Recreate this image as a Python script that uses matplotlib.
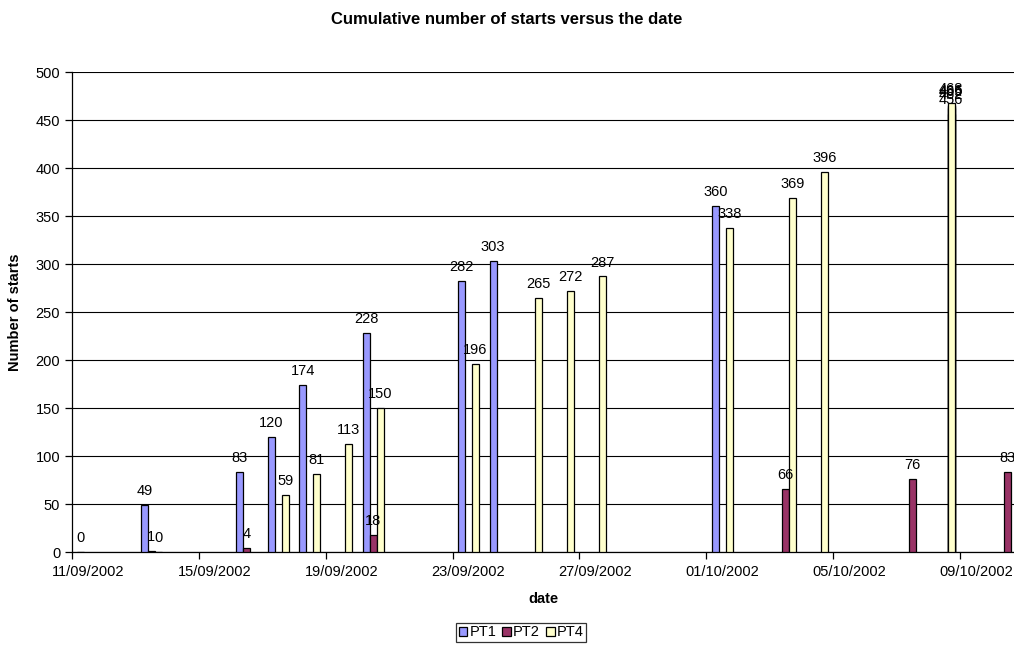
import datetime as dt
import numpy as np
import matplotlib
matplotlib.use('Agg')
import matplotlib.pyplot as plt
import matplotlib.dates as mdates

plt.rcParams['font.family'] = ['Liberation Sans', 'DejaVu Sans']

# cumulative number of starts per site (date -> value)
pt1_dates = ['11/09/2002', '13/09/2002', '16/09/2002', '17/09/2002', '18/09/2002',
             '20/09/2002', '23/09/2002', '24/09/2002', '01/10/2002']
pt1_vals = [0, 49, 83, 120, 174, 228, 282, 303, 360]

pt2_dates = ['13/09/2002', '16/09/2002', '20/09/2002', '03/10/2002', '07/10/2002', '10/10/2002']
pt2_vals = [1, 4, 18, 66, 76, 83]

pt4_dates = ['13/09/2002', '17/09/2002', '18/09/2002', '19/09/2002', '20/09/2002',
             '23/09/2002', '25/09/2002', '26/09/2002', '27/09/2002', '01/10/2002',
             '03/10/2002', '04/10/2002', '08/10/2002', '08/10/2002', '08/10/2002',
             '08/10/2002', '08/10/2002']
pt4_vals = [0, 59, 81, 113, 150, 196, 265, 272, 287, 338, 369, 396,
            456, 462, 465, 466, 468]

tick_dates = ['11/09/2002', '15/09/2002', '19/09/2002', '23/09/2002',
              '27/09/2002', '01/10/2002', '05/10/2002', '09/10/2002']

series = [('PT1', pt1_dates, pt1_vals, '#9999FF'),
          ('PT2', pt2_dates, pt2_vals, '#993366'),
          ('PT4', pt4_dates, pt4_vals, '#FFFFCC')]

def to_num(s):
    return mdates.date2num(dt.datetime.strptime(s, '%d/%m/%Y'))

start = to_num('11/09/2002')
w = 0.22

fig = plt.figure(figsize=(10.14, 6.46), dpi=100)
ax = fig.add_axes([72 / 1014, 1 - 552 / 646, 1 - 72 / 1014, 480 / 646])

for i, (name, dates, vals, col) in enumerate(series):
    x = np.array([to_num(d) for d in dates]) + 0.5 + (i - 1) * w
    ax.bar(x, vals, width=w, color=col, edgecolor='black', linewidth=0.9,
           label=name, zorder=3)
    for xx, v in zip(x, vals):
        ax.annotate(str(v), (xx, v), xytext=(0, 5), textcoords='offset points',
                    ha='center', va='bottom', fontsize=10.5, zorder=4)

ax.set_xlim(start, start + 29.7)
ax.set_ylim(0, 500)
ax.set_yticks(np.arange(0, 501, 50))
# tick marks at the start of the day, labels in the middle of the day slot
tk = [to_num(d) for d in tick_dates]
ax.set_xticks(tk)
ax.set_xticklabels([])
ax.set_xticks([t + 0.5 for t in tk], minor=True)
ax.set_xticklabels(tick_dates, minor=True)
ax.tick_params(axis='x', which='minor', length=0, pad=9, labelsize=10.5)
ax.tick_params(axis='x', which='major', direction='out', length=5, width=0.9)
ax.tick_params(axis='y', labelsize=10.5, direction='out', length=5, width=0.9)
ax.grid(axis='y', color='black', linewidth=0.8, zorder=0)
ax.spines['top'].set_visible(False)
ax.spines['right'].set_visible(False)
ax.spines['left'].set_linewidth(0.9)
ax.spines['bottom'].set_linewidth(0.9)

ax.set_xlabel('date', fontsize=10.5, fontweight='bold', labelpad=10)
ax.set_ylabel('Number of starts', fontsize=10.5, fontweight='bold', labelpad=10)
fig.text(0.5, 1 - 19 / 646, 'Cumulative number of starts versus the date',
         ha='center', va='center', fontsize=12, fontweight='bold')

leg = fig.legend(loc='lower center', bbox_to_anchor=(0.514, 0.0), ncol=3, fontsize=10.5,
                 handlelength=0.6, handleheight=0.6, handletextpad=0.15,
                 columnspacing=0.4, borderpad=0.15, borderaxespad=0.3,
                 fancybox=False, edgecolor='black')
leg.get_frame().set_linewidth(0.9)

fig.savefig('out.png', dpi=100)
